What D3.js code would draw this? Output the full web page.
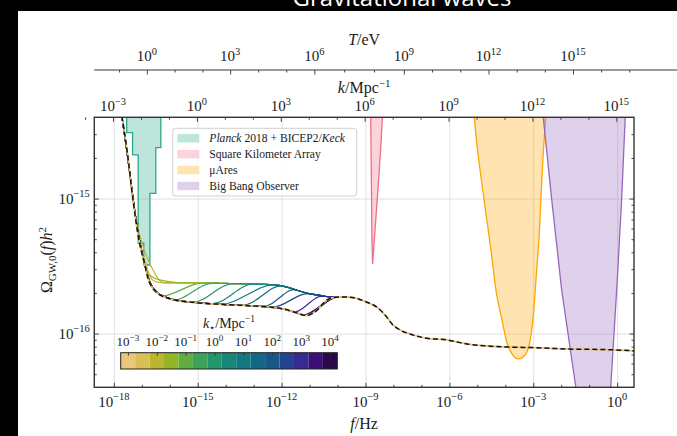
<!DOCTYPE html>
<html>
<head>
<meta charset="utf-8">
<script src="https://cdn.jsdelivr.net/npm/d3@7"></script>
<style>
body { margin: 0; background: #000; }
svg { display: block; }
text { font-family: "Liberation Serif", "DejaVu Serif", serif; fill: #1a1a1a; }
</style>
</head>
<body>
<svg id="chart" width="677" height="436"></svg>
<script>
// ---- data (log10 values) ----
var xlim = [2e-19, 4];          // f / Hz
var ylim = [4e-17, 4e-15];      // Omega_GW h^2

var xTickExp = [-18, -15, -12, -9, -6, -3, 0];
var yTickExp = [-16, -15];
var kTickExp = [-3, 0, 3, 6, 9, 12, 15];
var kPerHzExp = 15.03;          // k/Mpc^-1 = f/Hz * 10^15.03
var tTickExp = [0, 3, 6, 9, 12, 15];
var tTickLogF = [-16.82, -13.84, -10.83, -7.63, -4.60, -1.58];

// shared steep part of all spectra
var steepCurve = [[-17.76, -14.33], [-17.53, -14.64], [-17.32, -15.00], [-17.10, -15.31]];
// lower envelope (black dashed)
var bottomCurve = [[-16.89, -15.49], [-16.78, -15.59], [-16.64, -15.655], [-16.49, -15.69], [-16.35, -15.714],
  [-16.14, -15.733], [-15.92, -15.747], [-15.64, -15.759], [-15.28, -15.766], [-14.92, -15.773],
  [-14.57, -15.779], [-14.21, -15.783], [-13.85, -15.787], [-13.49, -15.79], [-13.13, -15.794],
  [-12.77, -15.798], [-12.42, -15.803], [-12.13, -15.81], [-11.88, -15.82], [-11.63, -15.835],
  [-11.42, -15.851], [-11.24, -15.862], [-11.07, -15.866], [-10.90, -15.851], [-10.72, -15.825],
  [-10.55, -15.784], [-10.37, -15.751], [-10.19, -15.735], [-9.94, -15.729]];
// upper envelope (k* = 1e-3 curve)
var topCurve = [[-16.96, -15.455], [-16.85, -15.544], [-16.71, -15.592], [-16.57, -15.613], [-16.42, -15.621],
  [-16.17, -15.625], [-15.82, -15.625], [-15.46, -15.625], [-15.11, -15.625], [-14.75, -15.625],
  [-14.39, -15.627], [-14.03, -15.628], [-13.67, -15.63], [-13.31, -15.631], [-12.95, -15.633],
  [-12.59, -15.634], [-12.24, -15.639], [-11.95, -15.647], [-11.70, -15.662], [-11.45, -15.679],
  [-11.21, -15.694], [-10.97, -15.707], [-10.72, -15.716], [-10.48, -15.724], [-10.19, -15.729],
  [-9.94, -15.729]];
// high-frequency tail of the dashed curve
var tailCurve = [[-9.74, -15.729], [-9.38, -15.736], [-9.02, -15.762], [-8.555, -15.81], [-8.27, -15.87],
  [-8.02, -15.936], [-7.77, -15.973], [-7.41, -16.003], [-6.80, -16.035], [-6.09, -16.047],
  [-5.73, -16.062], [-5.37, -16.077], [-4.66, -16.092], [-3.83, -16.10], [-3.01, -16.104],
  [-1.80, -16.114], [-0.15, -16.12], [0.67, -16.129]];

var kStarExp = [-3, -2.5, -2, -1.5, -1, -0.5, 0, 0.5, 1, 1.5, 2, 2.5, 3, 3.5, 4];
var kStarColors = ["#ebc77c", "#d9bf55", "#bcb52f", "#93b52a", "#62ad42", "#3ca35a", "#22966c", "#178878",
  "#12797f", "#136985", "#185889", "#24448e", "#352b93", "#3b0f75", "#28094a"];
var kStarStepLogF = [-17.32, -17.07, -16.78, -16.46, -15.75, -15.09, -14.45, -13.79, -13.20, -12.59,
  -12.06, -11.59, -11.11, -10.75, -10.52];

var planckEdges = [-17.54, -17.33, -17.13, -16.93, -16.71, -16.50, -16.32];
var planckLimits = [-14.512, -14.677, -15.331, -15.492, -14.961, -14.623];
var skaCurve = [[-8.82, -14.27], [-8.79, -14.862], [-8.77, -15.306], [-8.745, -15.484],
  [-8.66, -15.233], [-8.555, -14.936], [-8.45, -14.603], [-8.36, -14.27]];
var muAresCurve = [[-5.157, -14.27], [-5.11, -14.396], [-4.764, -15.003], [-4.514, -15.381], [-4.335, -15.677],
  [-4.12, -15.899], [-3.94, -16.07], [-3.76, -16.151], [-3.537, -16.188], [-3.37, -16.173],
  [-3.225, -16.136], [-3.08, -16.01], [-2.99, -15.847], [-2.904, -15.603], [-2.779, -15.233],
  [-2.69, -14.84], [-2.557, -14.396], [-2.51, -14.27]];
var bboCurve = [[-2.707, -14.27], [-2.343, -15.003], [-1.985, -15.677], [-1.474, -16.403], [-1.187, -16.825],
  [-0.83, -17.047], [-0.508, -16.825], [-0.232, -16.403], [0.004, -15.603], [0.161, -15.003], [0.315, -14.27]];

var legendNames = ["Planck", "Square Kilometer Array", "\u03bcAres", "Big Bang Observer"];
var regionColors = ["#27a88b", "#ee6f85", "#ffa500", "#9467bd"];

// ---- layout ----
var W = 677, H = 436;
var margin = { top: 117.3, left: 94.3 };
var width = 539.7, height = 270;

var svg = d3.select("#chart");
svg.append("rect").attr("width", W).attr("height", H).attr("fill", "#000");
svg.append("rect").attr("x", 18).attr("y", 11).attr("width", W - 18).attr("height", H - 11).attr("fill", "#fff");
svg.append("text").attr("x", 402).attr("y", 6).attr("text-anchor", "middle")
   .style("font-family", "'Open Sans', sans-serif").style("font-size", "24px").style("fill", "#fff")
   .text("Gravitational waves");

var g = svg.append("g").attr("transform", "translate(" + margin.left + "," + margin.top + ")");

var x = d3.scaleLog().domain(xlim).range([0, width]);
var y = d3.scaleLog().domain(ylim).range([height, 0]);
var xK = d3.scaleLog().domain(xlim.map(function(v) { return v * Math.pow(10, kPerHzExp); })).range([0, width]);

function p10(e) { return Math.pow(10, e); }

// superscript helper, "10^e"
function pow10(text, e, size) {
  text.append("tspan").text("10");
  text.append("tspan").attr("dy", -0.42 * size).style("font-size", (0.7 * size) + "px")
      .text((e < 0 ? "\u2212" : "") + Math.abs(e));
}

// clip
g.append("defs").append("clipPath").attr("id", "clip")
 .append("rect").attr("width", width).attr("height", height);

// grid
g.append("g").attr("class", "grid").attr("transform", "translate(0," + height + ")")
 .call(d3.axisBottom(x).tickValues(xTickExp.map(p10)).tickSize(-height).tickFormat(""));
g.append("g").attr("class", "grid")
 .call(d3.axisLeft(y).tickValues(yTickExp.map(p10)).tickSize(-width).tickFormat(""));
g.selectAll(".grid .domain").remove();
g.selectAll(".grid line").attr("stroke", "#dcdcdc").attr("stroke-width", 0.9);

var plot = g.append("g").attr("clip-path", "url(#clip)");

var line = d3.line()
  .x(function(d) { return x(p10(d[0])); })
  .y(function(d) { return y(p10(d[1])); });

// Planck step region
var planckPts = [[planckEdges[0], -13.5]];
planckLimits.forEach(function(v, i) { planckPts.push([planckEdges[i], v]); });
planckPts.push([planckEdges[planckEdges.length - 1], planckLimits[planckLimits.length - 1]]);
planckPts.push([planckEdges[planckEdges.length - 1], -13.5]);
var stepLine = d3.line().curve(d3.curveStepAfter)
  .x(function(d) { return x(p10(d[0])); })
  .y(function(d) { return y(p10(d[1])); });

var regions = [
  { pts: planckPts, gen: stepLine },
  { pts: skaCurve, gen: line },
  { pts: muAresCurve, gen: d3.line().curve(d3.curveMonotoneX).x(line.x()).y(line.y()) },
  { pts: bboCurve, gen: line }
];
regions.forEach(function(r, i) {
  plot.append("path").attr("d", r.gen(r.pts) + "Z")
      .attr("fill", regionColors[i]).attr("fill-opacity", 0.3).attr("stroke", "none");
  plot.append("path").attr("d", r.gen(r.pts))
      .attr("fill", "none").attr("stroke", regionColors[i]).attr("stroke-width", 1.3);
});

// k* spectra
var smooth = d3.line().curve(d3.curveMonotoneX).x(line.x()).y(line.y());
var soft = d3.line().curve(d3.curveBasis).x(line.x()).y(line.y());
kStarExp.forEach(function(k, i) {
  var t = kStarStepLogF[i];
  var pts = steepCurve
    .concat(bottomCurve.filter(function(p) { return p[0] < t - 0.3; }))
    .concat(topCurve.filter(function(p) { return p[0] > t + 0.3; }));
  plot.append("path").attr("d", soft(pts))
      .attr("fill", "none").attr("stroke", kStarColors[i]).attr("stroke-width", 1.2);
});

// reference spectrum: tan line with black dashes
var mainPts = steepCurve.concat(bottomCurve).concat(tailCurve);
plot.append("path").attr("d", smooth(mainPts))
    .attr("fill", "none").attr("stroke", "#e6c36f").attr("stroke-width", 1.8);
plot.append("path").attr("d", smooth(mainPts))
    .attr("fill", "none").attr("stroke", "#111").attr("stroke-width", 1.5)
    .attr("stroke-dasharray", "5,3");

// ---- axes ----
function minorDecades(a, b, skip) {
  var out = [];
  for (var e = a; e <= b; e++) if (skip.indexOf(e) < 0) out.push(e);
  return out;
}
function yMinors() {
  var out = [];
  for (var e = -17; e <= -15; e++) for (var m = 2; m <= 9; m++) {
    var v = m * p10(e);
    if (v > ylim[0] && v < ylim[1]) out.push(v);
  }
  return out;
}
var tickStroke = "#333";

function styleAxis(sel) {
  sel.select(".domain").remove();
  sel.selectAll("line").attr("stroke", tickStroke).attr("stroke-width", 0.9);
}

var xMin = minorDecades(-19, 0, xTickExp).map(p10).filter(function(v) { return v >= xlim[0] && v <= xlim[1]; });
g.append("g").attr("transform", "translate(0," + height + ")")
 .call(d3.axisBottom(x).tickValues(xTickExp.map(p10)).tickSize(-4.5).tickFormat("")).call(styleAxis);
g.append("g").attr("transform", "translate(0," + height + ")")
 .call(d3.axisBottom(x).tickValues(xMin).tickSize(-2.5).tickFormat("")).call(styleAxis);

var kMin = minorDecades(-4, 15, kTickExp).map(p10);
g.append("g").call(d3.axisTop(xK).tickValues(kTickExp.map(p10)).tickSize(-4.5).tickFormat("")).call(styleAxis);
g.append("g").call(d3.axisTop(xK).tickValues(kMin).tickSize(-2.5).tickFormat("")).call(styleAxis);

g.append("g").call(d3.axisLeft(y).tickValues(yTickExp.map(p10)).tickSize(-4.5).tickFormat("")).call(styleAxis);
g.append("g").call(d3.axisLeft(y).tickValues(yMinors()).tickSize(-2.5).tickFormat("")).call(styleAxis);
g.append("g").attr("transform", "translate(" + width + ",0)")
 .call(d3.axisRight(y).tickValues(yTickExp.map(p10)).tickSize(-4.5).tickFormat("")).call(styleAxis);
g.append("g").attr("transform", "translate(" + width + ",0)")
 .call(d3.axisRight(y).tickValues(yMinors()).tickSize(-2.5).tickFormat("")).call(styleAxis);

g.append("rect").attr("width", width).attr("height", height)
 .attr("fill", "none").attr("stroke", "#333").attr("stroke-width", 1.4);

// tick labels
var fs = 15;
xTickExp.forEach(function(e) {
  var t = g.append("text").attr("x", x(p10(e))).attr("y", height + 19.5)
           .attr("text-anchor", "middle").style("font-size", fs + "px");
  pow10(t, e, fs);
});
kTickExp.forEach(function(e) {
  var t = g.append("text").attr("x", xK(p10(e))).attr("y", -6.5)
           .attr("text-anchor", "middle").style("font-size", fs + "px");
  pow10(t, e, fs);
});
yTickExp.forEach(function(e) {
  var t = g.append("text").attr("x", -4.5).attr("y", y(p10(e)) + 5)
           .attr("text-anchor", "end").style("font-size", fs + "px");
  pow10(t, e, fs);
});

// axis titles
var ft = svg.append("text").attr("x", margin.left + width / 2).attr("y", 429)
  .attr("text-anchor", "middle").style("font-size", "16px");
ft.append("tspan").style("font-style", "italic").text("f");
ft.append("tspan").text("/Hz");

var kt = svg.append("text").attr("x", margin.left + width / 2).attr("y", 93)
  .attr("text-anchor", "middle").style("font-size", "16px");
kt.append("tspan").style("font-style", "italic").text("k");
kt.append("tspan").text("/Mpc");
kt.append("tspan").attr("dy", -6.5).style("font-size", "11px").text("\u22121");

var yt = svg.append("text").attr("transform", "translate(52,260) rotate(-90)")
  .attr("text-anchor", "middle").style("font-size", "16px");
yt.append("tspan").text("\u03a9");
yt.append("tspan").attr("dy", 3.5).style("font-size", "11px").text("GW,0");
yt.append("tspan").attr("dy", -3.5).text("(");
yt.append("tspan").style("font-style", "italic").text("f");
yt.append("tspan").text(")");
yt.append("tspan").style("font-style", "italic").text("h");
yt.append("tspan").attr("dy", -6.5).style("font-size", "11px").text("2");

// ---- temperature axis ----
var tY = 70;
var tScale = d3.scaleLog().domain(tTickExp.map(p10))
  .range(tTickLogF.map(function(v) { return margin.left + x(p10(v)); }));
var tg = svg.append("g").attr("transform", "translate(0," + tY + ")");
tg.append("line").attr("x1", margin.left).attr("x2", W).attr("stroke", "#333").attr("stroke-width", 1.2);
var tMin = minorDecades(-2, 17, tTickExp).map(p10)
  .filter(function(v) { return tScale(v) >= margin.left && tScale(v) <= W; });
tg.append("g").call(d3.axisTop(tScale).tickValues(tTickExp.map(p10)).tickSize(-4.5).tickFormat("")).call(styleAxis);
tg.append("g").call(d3.axisTop(tScale).tickValues(tMin).tickSize(-2.5).tickFormat("")).call(styleAxis);
tTickExp.forEach(function(e) {
  var t = tg.append("text").attr("x", tScale(p10(e))).attr("y", -9)
            .attr("text-anchor", "middle").style("font-size", fs + "px");
  pow10(t, e, fs);
});
var tt = svg.append("text").attr("x", margin.left + width / 2).attr("y", 45)
  .attr("text-anchor", "middle").style("font-size", "16px");
tt.append("tspan").style("font-style", "italic").text("T");
tt.append("tspan").text("/eV");

// ---- legend ----
var lg = svg.append("g").attr("transform", "translate(172.7,128.3)");
lg.append("rect").attr("width", 184).attr("height", 67.7).attr("rx", 3)
  .attr("fill", "#fff").attr("fill-opacity", 0.85).attr("stroke", "#d0d0d0");
legendNames.forEach(function(name, i) {
  var row = lg.append("g").attr("transform", "translate(0," + (10 + i * 15.9) + ")");
  row.append("rect").attr("x", 4.6).attr("y", -4.2).attr("width", 22).attr("height", 8.4)
     .attr("fill", regionColors[i]).attr("fill-opacity", 0.3);
  var t = row.append("text").attr("x", 36.6).attr("y", 4).style("font-size", "11.6px");
  if (i === 0) {
    t.append("tspan").style("font-style", "italic").text("Planck");
    t.append("tspan").text(" 2018 + BICEP2/");
    t.append("tspan").style("font-style", "italic").text("Keck");
  } else {
    t.text(name);
  }
});

// ---- colorbar ----
var cb = svg.append("g").attr("transform", "translate(120.7,352.7)");
var cbW = 216.6, cbH = 16.3;
var cbx = d3.scaleLinear().domain([-3.25, 4.25]).range([0, cbW]);
cb.selectAll("rect.bin").data(kStarExp).join("rect").attr("class", "bin")
  .attr("x", function(d) { return cbx(d - 0.25); }).attr("y", 0)
  .attr("width", cbx(0.5) - cbx(0)).attr("height", cbH)
  .attr("fill", function(d, i) { return kStarColors[i]; });
cb.append("rect").attr("width", cbW).attr("height", cbH).attr("fill", "none").attr("stroke", "#222").attr("stroke-width", 1);
var cbTicks = [-3, -2, -1, 0, 1, 2, 3, 4];
cb.append("g").call(d3.axisTop(cbx).tickValues(cbTicks).tickSize(-3).tickFormat("")).call(styleAxis);
cbTicks.forEach(function(e) {
  var t = cb.append("text").attr("x", cbx(e)).attr("y", -6.5)
            .attr("text-anchor", "middle").style("font-size", "13px");
  pow10(t, e, 13);
});
var ct = cb.append("text").attr("x", cbW / 2).attr("y", -25).attr("text-anchor", "middle").style("font-size", "14px");
ct.append("tspan").style("font-style", "italic").text("k");
ct.append("tspan").attr("dy", 3).style("font-size", "9.5px").text("\u22c6");
ct.append("tspan").attr("dy", -3).text("/Mpc");
ct.append("tspan").attr("dy", -5.5).style("font-size", "9.5px").text("\u22121");
</script>
</body>
</html>
